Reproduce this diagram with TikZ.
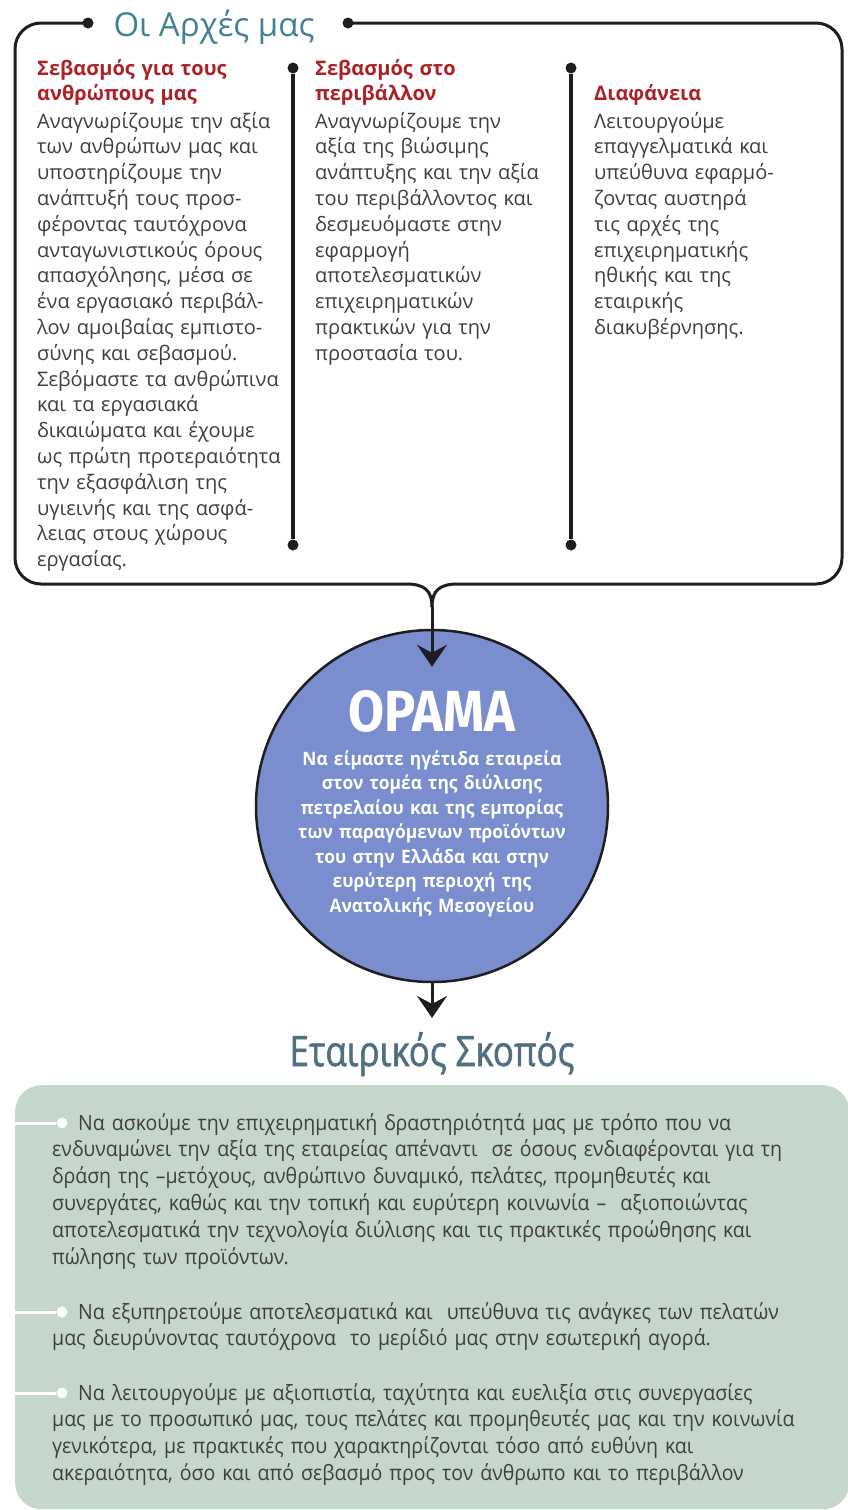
\documentclass[tikz,border=0pt]{standalone}
\usepackage{fontspec}
\setmainfont{Open Sans}
\newfontfamily\narrowfont{Open Sans}[FakeStretch=0.93]
\newfontfamily\circlefont{Open Sans}[FakeStretch=0.94]
\newfontfamily\purposefont{Open Sans}[FakeStretch=0.83, FakeBold=1.3]
\newfontfamily\visionfont{Fira Sans}[FakeStretch=0.9]
\usepackage{xcolor}
\usepackage{tikz}
\usetikzlibrary{arrows.meta,positioning,calc}

\definecolor{framegray}{RGB}{30,30,30}
\definecolor{headred}{RGB}{172,32,38}
\definecolor{bodygray}{RGB}{62,62,62}
\definecolor{titleblue}{RGB}{66,128,148}
\definecolor{purposeblue}{RGB}{80,112,128}
\definecolor{visionblue}{RGB}{122,141,206}
\definecolor{sage}{RGB}{197,214,204}

\begin{document}
\begin{tikzpicture}[x=1pt,y=-1pt,
    frame/.style={line width=3pt, draw=framegray, rounded corners=26pt},
    divider/.style={line width=3.5pt, draw=framegray},
    blob/.style={circle, fill=framegray, inner sep=0pt, minimum size=11pt},
    head/.style={anchor=base west, inner sep=0pt, text width=260pt, align=left, text=headred, font=\bfseries\fontsize{20}{25}\selectfont},
    body/.style={anchor=base west, inner sep=0pt, text width=270pt, align=left, text=bodygray, font=\fontsize{20}{25.8}\selectfont},
    pointer/.style={line width=3pt, draw=framegray, -{Stealth[length=22pt,width=30pt,inset=8pt]}},
    goal/.style={anchor=base west, inner sep=0pt, text width=790pt, align=left, text=bodygray, font=\narrowfont\fontsize{21}{26.8}\selectfont},
    tick/.style={circle, fill=white, inner sep=0pt, minimum size=11pt}]
\useasboundingbox (0,0) rectangle (848,1510);

% principles frame
\node[blob] (ldot) at (88,23) {};
\node[blob] (rdot) at (348,23) {};
\node[anchor=base, inner sep=0pt, text=titleblue, font=\fontsize{33}{33}\selectfont] (principles) at (214,36) {Οι Αρχές μας};
\coordinate (notch) at (432,607);
\draw[frame] (ldot.center) -- (15,23) -- (15,584) -- (406,584);
\draw[frame] (rdot.center) -- (842,23) -- (842,584) -- (458,584);
\draw[line width=3pt, draw=framegray] (406,584) .. controls (424,584) and (432,590) .. (notch);
\draw[line width=3pt, draw=framegray] (458,584) .. controls (440,584) and (432,590) .. (notch);

\foreach \x in {293,571} {
  \node[blob] (top\x) at (\x,68) {};
  \node[blob] (bot\x) at (\x,545) {};
  \draw[divider] (top\x) -- (bot\x);
}

\node[head] (headpeople) at (37,75) {Σεβασμός για τους\\ ανθρώπους μας};
\node[head] (headenv) at (315,75) {Σεβασμός στο\\ περιβάλλον};
\node[head] (headclear) at (594,100) {Διαφάνεια};

\node[body] (people) at (37,128) {Αναγνωρίζουμε την αξία\\ των ανθρώπων μας και\\ υποστηρίζουμε την\\ ανάπτυξή τους προσ-\\ φέροντας ταυτόχρονα\\ ανταγωνιστικούς όρους\\ απασχόλησης, μέσα σε\\ ένα εργασιακό περιβάλ-\\ λον αμοιβαίας εμπιστο-\\ σύνης και σεβασμού.\\ Σεβόμαστε τα ανθρώπινα\\ και τα εργασιακά\\ δικαιώματα και έχουμε\\ ως πρώτη προτεραιότητα\\ την εξασφάλιση της\\ υγιεινής και της ασφά-\\ λειας στους χώρους\\ εργασίας.};
\node[body] (env) at (315,128) {Αναγνωρίζουμε την\\ αξία της βιώσιμης\\ ανάπτυξης και την αξία\\ του περιβάλλοντος και\\ δεσμευόμαστε στην\\ εφαρμογή\\ αποτελεσματικών\\ επιχειρηματικών\\ πρακτικών για την\\ προστασία του.};
\node[body] (clear) at (594,128) {Λειτουργούμε\\ επαγγελματικά και\\ υπεύθυνα εφαρμό-\\ ζοντας αυστηρά\\ τις αρχές της\\ επιχειρηματικής\\ ηθικής και της\\ εταιρικής\\ διακυβέρνησης.};

% vision
\node[circle, fill=visionblue, draw=framegray, line width=2.5pt, minimum size=352pt, inner sep=0pt] (vision) at (432,806) {};
\node[anchor=base, inner sep=0pt, text=white, font=\visionfont\bfseries\fontsize{58}{58}\selectfont] (visiontitle) at (432,731) {ΟΡΑΜΑ};
\node[anchor=base, inner sep=0pt, text width=320pt, align=center, text=white, font=\circlefont\bfseries\fontsize{18.5}{24.5}\selectfont] (visiontext) at (432,765) {Να είμαστε ηγέτιδα εταιρεία\\ στον τομέα της διύλισης\\ πετρελαίου και της εμπορίας\\ των παραγόμενων προϊόντων\\ του στην Ελλάδα και στην\\ ευρύτερη περιοχή της\\ Ανατολικής Μεσογείου};
\draw[pointer] (notch) -- ([yshift=-38pt]vision.north);

% purpose
\node[anchor=base, inner sep=0pt, text=purposeblue, font=\purposefont\fontsize{42}{42}\selectfont] (purpose) at (432,1066) {Εταιρικός Σκοπός};
\draw[pointer] (vision.south) -- ([yshift=14pt]purpose.north);

\node[anchor=north west, fill=sage, rounded corners=26pt, minimum width=834pt, minimum height=424pt, inner sep=0pt] (goals) at (15,1085) {};
\foreach \n/\yy in {1/1123,2/1312,3/1393} {
  \node[tick] (tick\n) at (62,\yy) {};
  \draw[white, line width=3pt] (goals.west |- tick\n) -- (tick\n);
}
\node[goal] (goal1) at (52,1130) {\hspace*{26pt}Να ασκούμε την επιχειρηματική δραστηριότητά μας με τρόπο που να\\ ενδυναμώνει την αξία της εταιρείας απέναντι\ \ σε όσους ενδιαφέρονται για τη\\ δράση της –μετόχους, ανθρώπινο δυναμικό, πελάτες, προμηθευτές και\\ συνεργάτες, καθώς και την τοπική και ευρύτερη κοινωνία –\ \ αξιοποιώντας\\ αποτελεσματικά την τεχνολογία διύλισης και τις πρακτικές προώθησης και\\ πώλησης των προϊόντων.};
\node[goal] (goal2) at (52,1319) {\hspace*{26pt}Να εξυπηρετούμε αποτελεσματικά και\ \ υπεύθυνα τις ανάγκες των πελατών\\ μας διευρύνοντας ταυτόχρονα\ \ το μερίδιό μας στην εσωτερική αγορά.};
\node[goal] (goal3) at (52,1400) {\hspace*{26pt}Να λειτουργούμε με αξιοπιστία, ταχύτητα και ευελιξία στις συνεργασίες\\ μας με το προσωπικό μας, τους πελάτες και προμηθευτές μας και την κοινωνία\\ γενικότερα, με πρακτικές που χαρακτηρίζονται τόσο από ευθύνη και\\ ακεραιότητα, όσο και από σεβασμό προς τον άνθρωπο και το περιβάλλον};
\end{tikzpicture}
\end{document}
